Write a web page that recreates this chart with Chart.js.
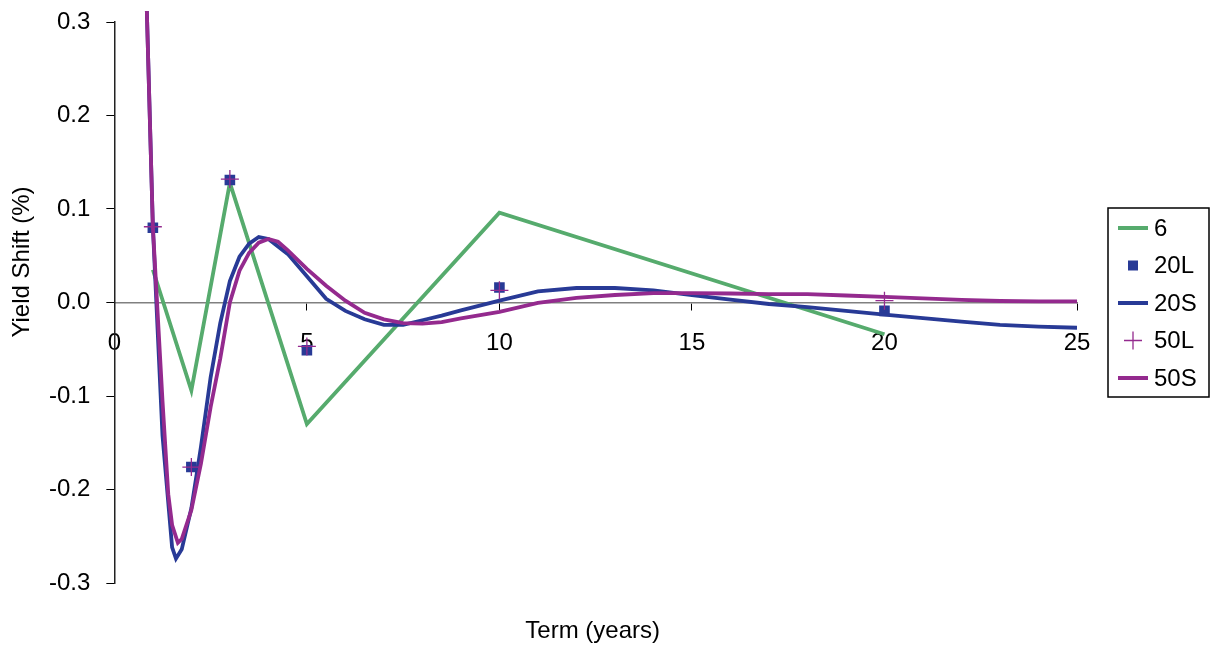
<!DOCTYPE html>
<html>
<head>
<meta charset="utf-8">
<script src="https://cdn.jsdelivr.net/npm/chart.js@4.4.1/dist/chart.umd.min.js"></script>
<style>
  html, body { margin: 0; padding: 0; background: #fff; }
  canvas { display: block; }
</style>
</head>
<body>
<canvas id="yield-chart" width="1211" height="649"></canvas>
<script>
// benchmark terms (years) and fitted yield shifts (%)
var termsL = [1, 2, 3, 5, 10, 20];
var fit6 = [0.035, -0.094, 0.128, -0.130, 0.096, -0.034];
var fit20L = [0.080, -0.176, 0.131, -0.051, 0.016, -0.009];
var fit50L = [0.081, -0.176, 0.132, -0.047, 0.013, 0.002];

// smooth curves, sampled terms
var terms20S = [0.75, 1, 1.25, 1.5, 1.6, 1.75, 2, 2.25, 2.5, 2.75, 3, 3.25, 3.5, 3.75, 4, 4.5, 5, 5.5,
  6, 6.5, 7, 7.5, 8, 8.5, 9, 10, 11, 12, 13, 14, 15, 16, 17, 18, 19, 20, 21, 22, 23, 24, 25];
var fit20S = [0.45, 0.081, -0.142, -0.262, -0.274, -0.264, -0.22, -0.154, -0.08, -0.022, 0.023, 0.049, 0.063, 0.070, 0.068, 0.052, 0.028, 0.004,
  -0.009, -0.018, -0.024, -0.024, -0.019, -0.014, -0.0085, 0.002, 0.012, 0.0155, 0.0155, 0.013, 0.008, 0.003, -0.0016, -0.005, -0.009, -0.013, -0.0166, -0.0205, -0.024, -0.0257, -0.027];

var terms50S = [0.75, 1, 1.25, 1.4, 1.5, 1.65, 1.75, 2, 2.25, 2.5, 2.75, 3, 3.25, 3.5, 3.75, 4, 4.25, 4.5, 5, 5.5,
  6, 6.5, 7, 7.5, 8, 8.5, 9, 10, 11, 12, 13, 14, 15, 16, 17, 18, 19, 20, 21, 22, 23, 24, 25];
var fit50S = [0.45, 0.081, -0.105, -0.205, -0.238, -0.257, -0.253, -0.222, -0.172, -0.112, -0.06, 0.0, 0.034, 0.053, 0.064, 0.068, 0.065, 0.056, 0.036, 0.018,
  0.002, -0.011, -0.018, -0.022, -0.0225, -0.021, -0.017, -0.010, -0.0005, 0.005, 0.008, 0.010, 0.010, 0.0096, 0.009, 0.009, 0.0075, 0.006, 0.0045, 0.0027, 0.0016, 0.0013, 0.0013];

var yTicks = [-0.3, -0.2, -0.1, 0.0, 0.1, 0.2, 0.3];

var GREEN = '#56ab6d';
var BLUE = '#283a96';
var PURPLE = '#942a8e';
var FONT = 'Liberation Sans, Arial, sans-serif';
var FS = 24;

function toXY(xs, ys) {
  var out = [];
  for (var i = 0; i < xs.length; i++) out.push({ x: xs[i], y: ys[i] });
  return out;
}

// axis titles + boxed legend, drawn on the canvas
var textPlugin = {
  id: 'yieldText',
  afterDraw: function (chart) {
    var ctx = chart.ctx;
    var area = chart.chartArea;
    ctx.save();
    ctx.fillStyle = '#000';
    ctx.font = FS + 'px ' + FONT;
    ctx.textAlign = 'center';
    ctx.textBaseline = 'middle';
    ctx.fillText('Term (years)', (area.left + area.right) / 2 - 3, 631);
    ctx.save();
    ctx.translate(22, 262);
    ctx.rotate(-Math.PI / 2);
    ctx.fillText('Yield Shift (%)', 0, 0);
    ctx.restore();

    // legend
    var bx = area.right + 31, by = 208, bw = 101, bh = 189;
    ctx.strokeStyle = '#000';
    ctx.lineWidth = 1.5;
    ctx.strokeRect(bx, by, bw, bh);
    ctx.textAlign = 'left';
    chart.data.datasets.forEach(function (ds, i) {
      var cy = by + 20 + i * 37.5;
      var cx = bx + 25;
      if (ds.showLine === false) {
        if (ds.pointStyle === 'rect') {
          ctx.fillStyle = ds.backgroundColor;
          ctx.fillRect(cx - 5, cy - 5, 10, 10);
        } else {
          ctx.strokeStyle = ds.borderColor;
          ctx.lineWidth = 1.3;
          ctx.beginPath();
          ctx.moveTo(cx - 9, cy); ctx.lineTo(cx + 9, cy);
          ctx.moveTo(cx, cy - 9); ctx.lineTo(cx, cy + 9);
          ctx.stroke();
        }
      } else {
        ctx.strokeStyle = ds.borderColor;
        ctx.lineWidth = 4;
        ctx.beginPath();
        ctx.moveTo(cx - 15, cy); ctx.lineTo(cx + 15, cy);
        ctx.stroke();
      }
      ctx.fillStyle = '#000';
      ctx.fillText(ds.label, bx + 46, cy + 1);
    });
    ctx.restore();
  }
};

var chart = new Chart(document.getElementById('yield-chart').getContext('2d'), {
  type: 'line',
  data: {
    datasets: [
      {
        label: '6', data: toXY(termsL, fit6), borderColor: GREEN, backgroundColor: GREEN,
        borderWidth: 3.8, pointRadius: 0, tension: 0, order: 5
      },
      {
        label: '20L', data: toXY(termsL, fit20L), showLine: false, pointStyle: 'rect',
        pointRadius: 7.5, backgroundColor: BLUE, borderColor: BLUE, borderWidth: 0, order: 4
      },
      {
        label: '20S', data: toXY(terms20S, fit20S), borderColor: BLUE, backgroundColor: BLUE,
        borderWidth: 3.8, pointRadius: 0, tension: 0, order: 3,
        clip: { left: 0, top: 11, right: 0, bottom: 0 }
      },
      {
        label: '50L', data: toXY(termsL, fit50L), showLine: false, pointStyle: 'cross',
        pointRadius: 9, borderColor: PURPLE, backgroundColor: PURPLE, borderWidth: 1.3, order: 2
      },
      {
        label: '50S', data: toXY(terms50S, fit50S), borderColor: PURPLE, backgroundColor: PURPLE,
        borderWidth: 3.8, pointRadius: 0, tension: 0, order: 1,
        clip: { left: 0, top: 11, right: 0, bottom: 0 }
      }
    ]
  },
  options: {
    responsive: false,
    animation: false,
    devicePixelRatio: 1,
    layout: { padding: { left: 33, right: 134, top: 22, bottom: 66 } },
    plugins: {
      legend: { display: false },
      tooltip: { enabled: false }
    },
    scales: {
      x: {
        type: 'linear',
        position: { y: 0 },
        min: 0, max: 25,
        ticks: { stepSize: 5, color: '#000', font: { size: FS, family: FONT }, padding: 19, maxRotation: 0 },
        grid: { drawOnChartArea: false, drawTicks: true, tickLength: 7, tickColor: '#000' },
        border: { color: '#808080', width: 1.5 }
      },
      y: {
        type: 'linear',
        min: -0.3, max: 0.3,
        afterBuildTicks: function (scale) {
          scale.ticks = yTicks.map(function (v) { return { value: v }; });
        },
        afterFit: function (scale) {
          scale.paddingTop = 0;
          scale.paddingBottom = 0;
        },
        ticks: {
          color: '#000', font: { size: FS, family: FONT }, padding: 16,
          callback: function (v) { return v.toFixed(1); }
        },
        grid: { drawOnChartArea: false, drawTicks: true, tickLength: 8, tickColor: '#000' },
        border: { color: '#222', width: 1.5 }
      }
    }
  },
  plugins: [textPlugin]
});
</script>
</body>
</html>
